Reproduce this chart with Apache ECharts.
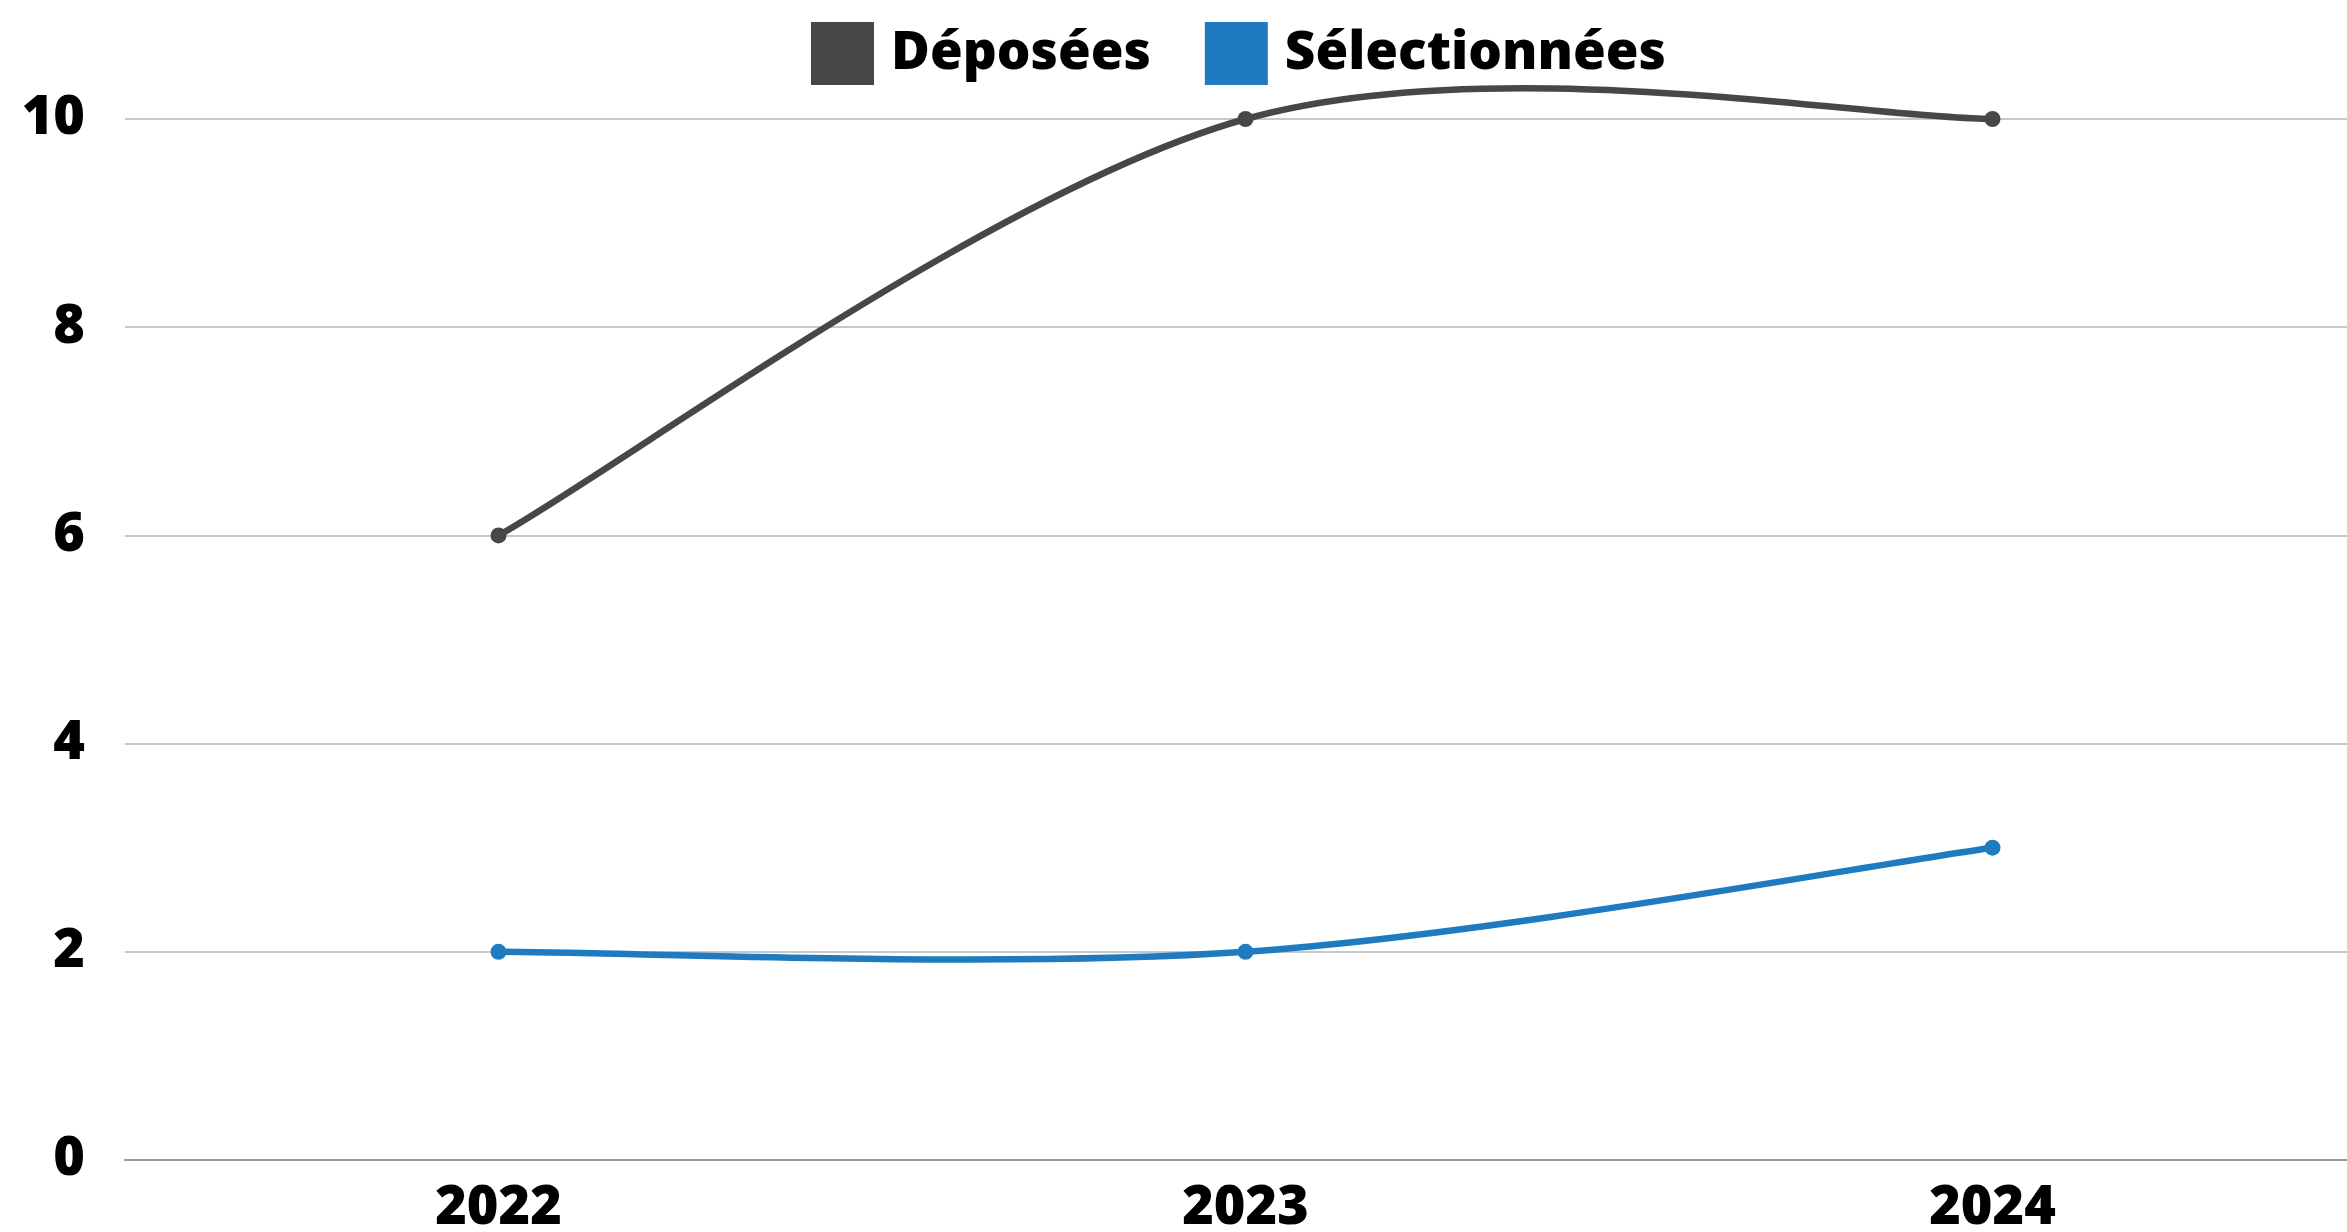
<!DOCTYPE html>
<html>
<head>
<meta charset="utf-8">
<script src="https://cdn.jsdelivr.net/npm/echarts@6/dist/echarts.min.js"></script>
<style>
  html, body { margin: 0; padding: 0; background: #fff; }
  #chart { width: 2347px; height: 1232px; }
</style>
</head>
<body>
<div id="chart"></div>
<script>
const years = ['2022', '2023', '2024']
const deposees = [6, 10, 10]
const selectionnees = [2, 2, 3]
const yTicks = [0, 2, 4, 6, 8, 10]

const chart = echarts.init(document.getElementById('chart'))
const labelFont = { color: '#000', fontFamily: 'Open Sans', fontWeight: 800, fontSize: 54 }

// courbe type catmull-rom (comme le tableur d'origine), un segment par point
function splineSeries(name, values, color) {
  return {
    name: name,
    type: 'custom',
    data: values.map((v, i) => [i, v]),
    z: 2,
    silent: true,
    renderItem(params, api) {
      const i = params.dataIndex
      if (i >= values.length - 1) return null
      const pt = j => {
        const k = Math.max(0, Math.min(values.length - 1, j))
        return api.coord([k, values[k]])
      }
      const p0 = pt(i - 1), p1 = pt(i), p2 = pt(i + 1), p3 = pt(i + 2)
      const c1 = [p1[0] + (p2[0] - p0[0]) / 6, p1[1] + (p2[1] - p0[1]) / 6]
      const c2 = [p2[0] - (p3[0] - p1[0]) / 6, p2[1] - (p3[1] - p1[1]) / 6]
      return {
        type: 'bezierCurve',
        shape: { x1: p1[0], y1: p1[1], x2: p2[0], y2: p2[1], cpx1: c1[0], cpy1: c1[1], cpx2: c2[0], cpy2: c2[1] },
        style: { stroke: color, lineWidth: 6.5, fill: null }
      }
    }
  }
}

function pointSeries(name, values, color) {
  return {
    name: name,
    type: 'line',
    data: values,
    color: color,
    symbol: 'circle',
    symbolSize: 16,
    z: 3,
    lineStyle: { width: 0 }
  }
}

chart.setOption({
  backgroundColor: '#fff',
  animation: false,
  grid: { left: 125, top: 119, bottom: 72, width: 2241, outerBoundsMode: 'none' },
  legend: {
    top: 17,
    left: 806,
    itemWidth: 63,
    itemHeight: 63,
    itemGap: 54,
    icon: 'rect',
    textStyle: Object.assign({}, labelFont, { fontSize: 53, padding: [0, 0, 0, 12] }),
    data: ['Déposées', 'Sélectionnées']
  },
  xAxis: {
    type: 'category',
    data: years,
    axisTick: { show: false },
    axisLine: { lineStyle: { color: '#999', width: 2 } },
    axisLabel: Object.assign({}, labelFont, { margin: 22 })
  },
  yAxis: {
    type: 'value',
    min: yTicks[0],
    max: yTicks[yTicks.length - 1],
    interval: 2,
    axisLine: { show: false },
    axisTick: { show: false },
    axisLabel: Object.assign({}, labelFont, { margin: 40 }),
    splitLine: { lineStyle: { color: '#c8c8c8', width: 2 } }
  },
  series: [
    pointSeries('Déposées', deposees, '#474747'),
    pointSeries('Sélectionnées', selectionnees, '#1f7bbf'),
    splineSeries('courbe-deposees', deposees, '#474747'),
    splineSeries('courbe-selectionnees', selectionnees, '#1f7bbf')
  ]
})
</script>
</body>
</html>
